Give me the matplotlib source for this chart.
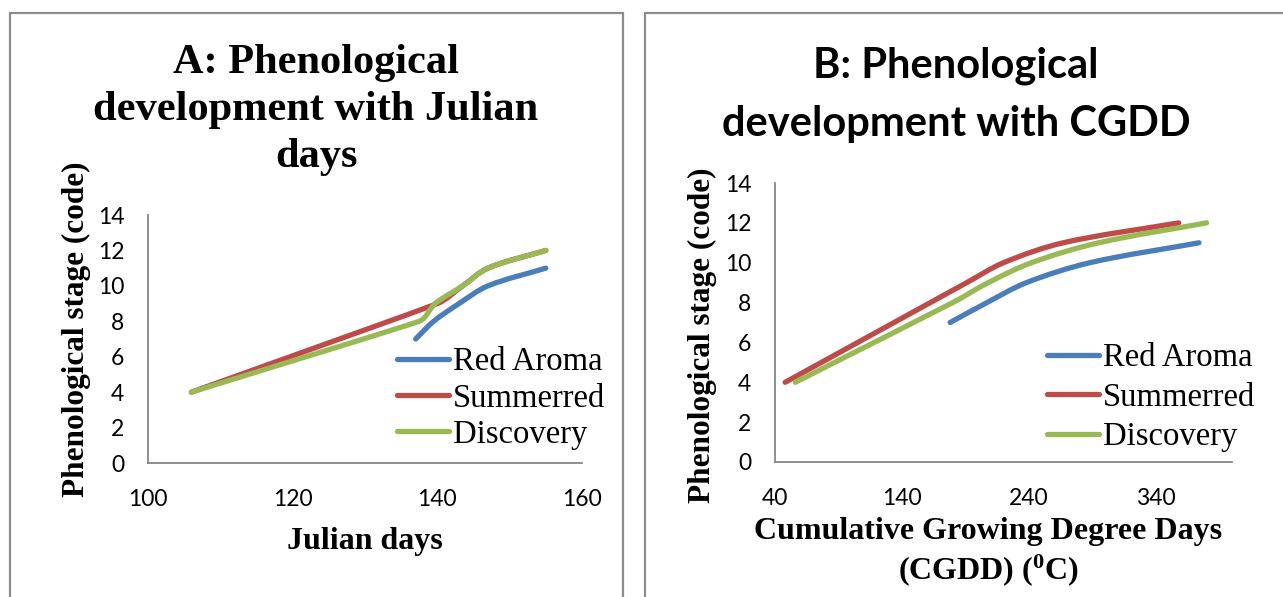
import matplotlib
matplotlib.use("Agg")
import matplotlib.pyplot as plt
from matplotlib.path import Path
from matplotlib.patches import PathPatch, Rectangle
from matplotlib.lines import Line2D
import numpy as np

# ---------------- data ----------------
series_names = ["Red Aroma", "Summerred", "Discovery"]
colors = ["#4A7EBB", "#BE4B48", "#98B954"]

# Panel A: Julian days
a_red_aroma_x = [137, 139.5, 143, 147, 155]
a_red_aroma_y = [7, 8, 9, 10, 11]
a_summerred_x = [106, 140, 143.5, 147, 155]
a_summerred_y = [4, 9, 10, 11, 12]
a_discovery_x = [106, 137.5, 139.7, 143.5, 147, 155]
a_discovery_y = [4, 8, 9, 10, 11, 12]

# Panel B: CGDD
b_red_aroma_x = [178, 207, 238, 288, 374]
b_red_aroma_y = [7, 8, 9, 10, 11]
b_summerred_x = [48, 191, 220, 267, 358]
b_summerred_y = [4, 9, 10, 11, 12]
b_discovery_x = [56, 180, 208, 242, 295, 380]
b_discovery_y = [4, 8, 9, 10, 11, 12]

a_xticks = [100, 120, 140, 160]
b_xticks = [40, 140, 240, 340]
yticks = [0, 2, 4, 6, 8, 10, 12, 14]

W, H = 1283, 597
fig = plt.figure(figsize=(W / 100, H / 100), dpi=100)
fig.patch.set_facecolor("white")

SERIF = "Liberation Serif"
SANS = "Lato"
plt.rcParams["mathtext.fontset"] = "custom"
plt.rcParams["mathtext.bf"] = "Liberation Serif:bold"
plt.rcParams["mathtext.rm"] = "Liberation Serif:bold"


def fx(px):
    return px / W


def fy(py):
    return (H - py) / H


# outer frames
for (x0, x1) in [(10, 623), (645, 1300)]:
    fig.patches.append(Rectangle((fx(x0), fy(620)), fx(x1) - fx(x0), fy(13) - fy(620),
                                 transform=fig.transFigure, fill=False,
                                 edgecolor="#8C8C8C", linewidth=1.6, zorder=0))


def smooth_path(ax, xs, ys):
    """Excel-like smoothed line: Bezier segments with limited handle lengths,
    computed in display space and mapped back to data space."""
    tr = ax.transData
    P = tr.transform(np.column_stack([xs, ys]).astype(float))
    n = len(P)
    seg = np.linalg.norm(np.diff(P, axis=0), axis=1)
    tang = []
    for i in range(n):
        if i == 0:
            v = P[1] - P[0]
        elif i == n - 1:
            v = P[-1] - P[-2]
        else:
            v = P[i + 1] - P[i - 1]
        tang.append(v / np.linalg.norm(v))
    verts = [P[0]]
    codes = [Path.MOVETO]
    for i in range(n - 1):
        l_out = seg[i] if i == 0 else min(seg[i], 2 * seg[i - 1])
        l_in = seg[i] if i + 1 == n - 1 else min(seg[i], 2 * seg[i + 1])
        c1 = P[i] + tang[i] * l_out / 3.0
        c2 = P[i + 1] - tang[i + 1] * l_in / 3.0
        verts += [c1, c2, P[i + 1]]
        codes += [Path.CURVE4] * 3
    verts = tr.inverted().transform(np.array(verts))
    return Path(verts, codes)


def style_axes(ax, xlim, xticks):
    ax.set_xlim(*xlim)
    ax.set_ylim(0, 14)
    ax.set_xticks(xticks)
    ax.set_yticks(yticks)
    for s in ["top", "right"]:
        ax.spines[s].set_visible(False)
    for s in ["left", "bottom"]:
        ax.spines[s].set_color("#868686")
        ax.spines[s].set_linewidth(1.3)
    ax.tick_params(length=0, labelsize=16.5)
    ax.tick_params(axis="y", pad=17)
    ax.tick_params(axis="x", pad=19)
    for lab in ax.get_xticklabels() + ax.get_yticklabels():
        lab.set_family(SANS)
    ax.patch.set_alpha(0)


def draw_series(ax, data):
    for (xs, ys), c in zip(data, colors):
        ax.add_patch(PathPatch(smooth_path(ax, xs, ys), fill=False, edgecolor=c,
                               linewidth=3.8, capstyle="round", joinstyle="round"))


handles = [Line2D([0], [0], color=c, linewidth=3.8, solid_capstyle="round") for c in colors]

# ---------------- Panel A ----------------
axA = fig.add_axes([fx(148), fy(463), fx(582) - fx(148), fy(215) - fy(463)])
style_axes(axA, (100, 160), a_xticks)
draw_series(axA, [(a_red_aroma_x, a_red_aroma_y), (a_summerred_x, a_summerred_y),
                  (a_discovery_x, a_discovery_y)])
axA.legend(handles, series_names, loc="upper left",
           bbox_to_anchor=(fx(397), fy(347)), bbox_transform=fig.transFigure,
           frameon=False, borderpad=0, borderaxespad=0, handlelength=1.6,
           handletextpad=0.12, labelspacing=0.17,
           prop={"family": SERIF, "size": 23.5})
fig.text(fx(316), fy(110), "A: Phenological\ndevelopment with Julian\ndays",
         ha="center", va="center", family=SERIF, weight="bold", size=30.5,
         linespacing=1.31)
fig.text(fx(76), fy(329), "Phenological stage (code)", rotation=90, ha="center",
         va="center", family=SERIF, weight="bold", size=22.5)
fig.text(fx(365), fy(541), "Julian days", ha="center", va="center",
         family=SERIF, weight="bold", size=23)

# ---------------- Panel B ----------------
axB = fig.add_axes([fx(775), fy(462), fx(1232) - fx(775), fy(183) - fy(462)])
style_axes(axB, (40, 400), b_xticks)
draw_series(axB, [(b_red_aroma_x, b_red_aroma_y), (b_summerred_x, b_summerred_y),
                  (b_discovery_x, b_discovery_y)])
axB.legend(handles, series_names, loc="upper left",
           bbox_to_anchor=(fx(1047), fy(343)), bbox_transform=fig.transFigure,
           frameon=False, borderpad=0, borderaxespad=0, handlelength=1.6,
           handletextpad=0.12, labelspacing=0.27,
           prop={"family": SERIF, "size": 23.5})
fig.text(fx(956), fy(66), "B: Phenological", ha="center", va="center",
         family=SANS, weight="bold", size=30)
fig.text(fx(956), fy(124), "development with CGDD", ha="center", va="center",
         family=SANS, weight="bold", size=30)
fig.text(fx(702), fy(335), "Phenological stage (code)", rotation=90, ha="center",
         va="center", family=SERIF, weight="bold", size=22.5)
fig.text(fx(988), fy(531), "Cumulative Growing Degree Days", ha="center",
         va="center", family=SERIF, weight="bold", size=23)
fig.text(fx(988), fy(570), r"(CGDD) ($\mathbf{^{0}}$C)", ha="center",
         va="center", family=SERIF, weight="bold", size=23)

fig.savefig("out.png", dpi=100, facecolor="white")
